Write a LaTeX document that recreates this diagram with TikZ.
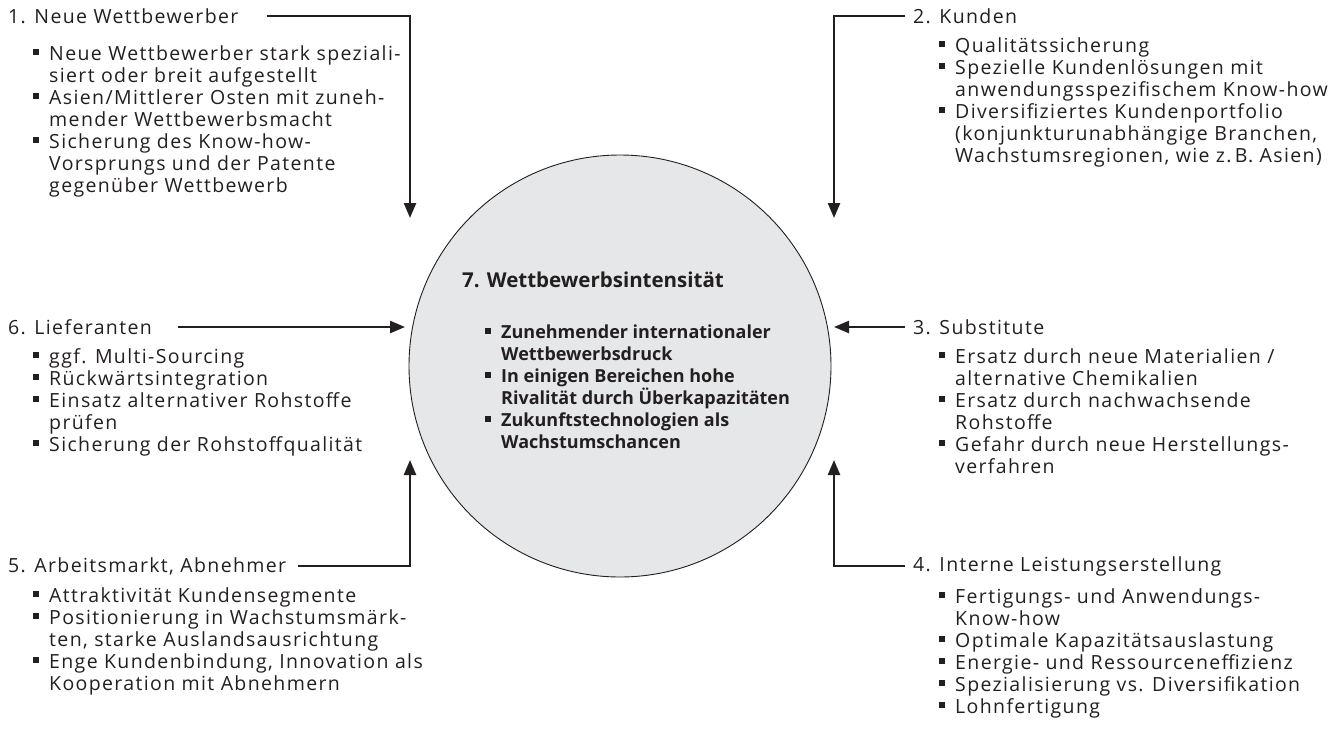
\documentclass[tikz,border=0pt]{standalone}
\usepackage{fontspec}
\setmainfont{Open Sans}
\newfontfamily\weit{Open Sans}[LetterSpace=7]
\usetikzlibrary{arrows.meta}
\definecolor{txt}{HTML}{231F20}
\definecolor{kreis}{HTML}{E6E7E8}
\newcommand{\pkt}{\makebox[16pt][l]{\rule[5pt]{6pt}{6pt}}}
\newcommand{\wei}{\hspace*{16pt}}

\begin{document}
\begin{tikzpicture}[x=1pt,y=-1pt,text=txt]
    \useasboundingbox (0,0) rectangle (1342,729);
    \node[circle,draw=txt,fill=kreis,line width=0.9pt,minimum size=422pt,inner sep=0] (7) at (620,366) {};

    \begin{scope}[every node/.style={anchor=west,inner sep=0,font=\weit\fontsize{19.5}{22}\selectfont}]
      \node (1) at (8,16) {1. Neue Wettbewerber};
      \node (2) at (913,16) {2. Kunden};
      \node (3) at (913,327) {3. Substitute};
      \node (4) at (913,566) {4. Interne Leistungserstellung};
      \node (5) at (8,566) {5. Arbeitsmarkt, Abnehmer};
      \node (6) at (8,327) {6. Lieferanten};
      \node[font=\fontsize{20.5}{22}\selectfont\bfseries] (t7) at (462,280) {7. Wettbewerbsintensität};
    \end{scope}

    \begin{scope}[every node/.style={anchor=north west,inner sep=0,align=left,font=\weit\fontsize{19.5}{22}\selectfont}]
      \node (l1) at (33,45) {\pkt Neue Wettbewerber stark speziali-\\ \wei siert oder breit aufgestellt\\
        \pkt Asien/Mittlerer Osten mit zuneh-\\ \wei mender Wettbewerbsmacht\\
        \pkt Sicherung des Know-how-\\ \wei Vorsprungs und der Patente\\ \wei gegenüber Wettbewerb};
      \node (l2) at (939,37) {\pkt Qualitätssicherung\\
        \pkt Spezielle Kundenlösungen mit\\ \wei anwendungsspezifischem Know-how\\
        \pkt Diversifiziertes Kundenportfolio\\ \wei (konjunkturunabhängige Branchen,\\ \wei Wachstumsregionen, wie z.\,B. Asien)};
      \node (l3) at (939,348) {\pkt Ersatz durch neue Materialien /\\ \wei alternative Chemikalien\\
        \pkt Ersatz durch nachwachsende\\ \wei Rohstoffe\\
        \pkt Gefahr durch neue Herstellungs-\\ \wei verfahren};
      \node (l4) at (939,588) {\pkt Fertigungs- und Anwendungs-\\ \wei Know-how\\
        \pkt Optimale Kapazitätsauslastung\\
        \pkt Energie- und Ressourceneffizienz\\
        \pkt Spezialisierung vs. Diversifikation\\
        \pkt Lohnfertigung};
      \node (l5) at (33,587) {\pkt Attraktivität Kundensegmente\\
        \pkt Positionierung in Wachstumsmärk-\\ \wei ten, starke Auslandsausrichtung\\
        \pkt Enge Kundenbindung, Innovation als\\ \wei Kooperation mit Abnehmern};
      \node (l6) at (33,348) {\pkt ggf. Multi-Sourcing\\
        \pkt Rückwärtsintegration\\
        \pkt Einsatz alternativer Rohstoffe\\ \wei prüfen\\
        \pkt Sicherung der Rohstoffqualität};
      \node[font=\fontsize{18}{22}\selectfont\bfseries] (l7) at (485,325) {\pkt Zunehmender internationaler\\ \wei Wettbewerbsdruck\\
        \pkt In einigen Bereichen hohe\\ \wei Rivalität durch Überkapazitäten\\
        \pkt Zukunftstechnologien als\\ \wei Wachstumschancen};
    \end{scope}

    \coordinate (p1) at (410,218);
    \coordinate (p2) at (834,218);
    \coordinate (p3) at (834,327);
    \coordinate (p4) at (834,460);
    \coordinate (p5) at (410,460);
    \coordinate (p6) at (405,327);

    \begin{scope}[>={Triangle[length=15pt,width=12pt]},line width=2.4pt,draw=txt]
      \draw [->] ([xshift=28pt]1.east) -| (p1);
      \draw [->] ([xshift=-8pt]2.west) -| (p2);
      \draw [->] ([xshift=-8pt]3.west) -- (p3);
      \draw [->] ([xshift=-8pt]4.west) -| (p4);
      \draw [->] ([xshift=12pt]5.east) -| (p5);
      \draw [->] ([xshift=26pt]6.east) -- (p6);
    \end{scope}
  \end{tikzpicture}
\end{document}
